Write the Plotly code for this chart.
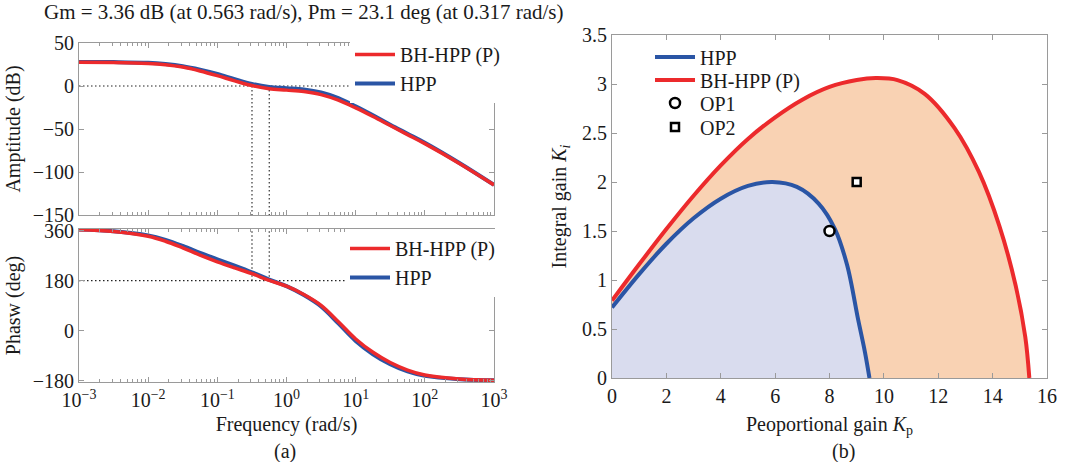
import plotly.graph_objects as go

# ---------------- data ----------------
freq = [0.001, 0.00316, 0.01, 0.0178, 0.0316, 0.0562, 0.1, 0.178, 0.316, 0.562,
        1.0, 1.78, 3.16, 5.62, 10.0, 17.8, 31.6, 56.2, 100.0, 316.0, 1000.0]

amp_bh = [27.5, 27.3, 26.3, 24.8, 22.0, 17.5, 12.0, 6.0, 0.5, -3.2,
          -4.8, -6.5, -10.0, -16.5, -25.5, -35.5, -46.0, -56.5, -67.0, -90.0, -115.0]
amp_hpp = [28.0, 27.8, 27.0, 25.5, 23.0, 19.0, 14.0, 8.0, 2.5, -1.0,
           -2.5, -4.0, -7.5, -14.0, -23.5, -34.0, -45.0, -55.5, -66.0, -89.5, -115.0]

ph_bh = [363, 357, 340, 322, 298, 272, 248, 226, 205, 181,
         160, 130, 91, 32, -30, -78, -115, -142, -160, -174, -179]
ph_hpp = [364, 358, 343, 327, 305, 280, 257, 234, 210, 184,
          160, 128, 87, 26, -37, -85, -121, -147, -163, -175, -179]

margin_freqs = [0.317, 0.563]
amp_ref = 0
phase_ref = 180

hpp_kp = [0, 1, 2, 3, 4, 5, 5.9, 6.8, 7.6, 8.2, 8.65, 9.05, 9.3, 9.47]
hpp_ki = [0.72, 1.06, 1.37, 1.63, 1.83, 1.96, 2.0, 1.95, 1.78, 1.52, 1.15, 0.6, 0.27, 0]

bh_kp = [0, 1, 2, 3, 4, 5, 6, 7, 8, 9, 9.7, 10.5, 11.5, 12.6, 13.5, 14.25, 14.85, 15.2, 15.35]
bh_ki = [0.79, 1.16, 1.52, 1.86, 2.17, 2.44, 2.66, 2.84, 2.97, 3.04, 3.06, 3.04, 2.9, 2.55,
         2.1, 1.55, 0.94, 0.42, 0]

op1 = ([8], [1.5])
op2 = ([9], [2])

freq_ticks = [1e-3, 1e-2, 1e-1, 1, 10, 100, 1000]
freq_ticktext = ["10<sup>−3</sup>", "10<sup>−2</sup>", "10<sup>−1</sup>", "10<sup>0</sup>",
                 "10<sup>1</sup>", "10<sup>2</sup>", "10<sup>3</sup>"]
amp_ticks = [50, 0, -50, -100, -150]
phase_ticks = [360, 180, 0, -180]
kp_ticks = [0, 2, 4, 6, 8, 10, 12, 14, 16]
ki_ticks = [0, 0.5, 1, 1.5, 2, 2.5, 3, 3.5]

title_text = "Gm = 3.36 dB (at 0.563 rad/s), Pm = 23.1 deg (at 0.317 rad/s)"

# ---------------- style ----------------
RED = "#EC2A2C"
BLUE = "#2A55A5"
FILL_RED = "#F9D2B3"
FILL_BLUE = "#D9DCEE"
FONT = "Liberation Serif"
FS = 20
FRAME = "#9a9a9a"
W, H = 1086, 462


def px_x(p):
    return p / W


def px_y(p):
    return 1 - p / H


fig = go.Figure()
dot_line = dict(color="#222", width=1.1, dash="1.5px,2.5px")

# ---------- Bode amplitude ----------
fig.add_trace(go.Scatter(x=[freq[0], freq[-1]], y=[amp_ref, amp_ref], mode="lines",
                         line=dot_line, showlegend=False, xaxis="x", yaxis="y",
                         hoverinfo="skip"))
for f in margin_freqs:
    fig.add_trace(go.Scatter(x=[f, f], y=[amp_ref, -150], mode="lines", line=dot_line,
                             showlegend=False, xaxis="x", yaxis="y", hoverinfo="skip"))
fig.add_trace(go.Scatter(x=freq, y=amp_hpp, mode="lines", name="HPP",
                         line=dict(color=BLUE, width=4, shape="spline"),
                         xaxis="x", yaxis="y", legend="legend"))
fig.add_trace(go.Scatter(x=freq, y=amp_bh, mode="lines", name="BH-HPP (P)",
                         line=dict(color=RED, width=3.5, shape="spline"),
                         xaxis="x", yaxis="y", legend="legend"))

# ---------- Bode phase ----------
fig.add_trace(go.Scatter(x=[freq[0], freq[-1]], y=[phase_ref, phase_ref], mode="lines",
                         line=dot_line, showlegend=False, xaxis="x2", yaxis="y2",
                         hoverinfo="skip"))
for f in margin_freqs:
    fig.add_trace(go.Scatter(x=[f, f], y=[phase_ref, 366], mode="lines", line=dot_line,
                             showlegend=False, xaxis="x2", yaxis="y2", hoverinfo="skip"))
fig.add_trace(go.Scatter(x=freq, y=ph_hpp, mode="lines", name="HPP",
                         line=dict(color=BLUE, width=4, shape="spline"),
                         xaxis="x2", yaxis="y2", legend="legend2"))
fig.add_trace(go.Scatter(x=freq, y=ph_bh, mode="lines", name="BH-HPP (P)",
                         line=dict(color=RED, width=3.5, shape="spline"),
                         xaxis="x2", yaxis="y2", legend="legend2"))

# ---------- stability region ----------
fig.add_trace(go.Scatter(x=bh_kp, y=bh_ki, mode="none", fill="tozeroy", fillcolor=FILL_RED,
                         line=dict(shape="spline"), showlegend=False,
                         xaxis="x3", yaxis="y3", hoverinfo="skip"))
fig.add_trace(go.Scatter(x=hpp_kp, y=hpp_ki, mode="none", fill="tozeroy", fillcolor=FILL_BLUE,
                         line=dict(shape="spline"), showlegend=False,
                         xaxis="x3", yaxis="y3", hoverinfo="skip"))
fig.add_trace(go.Scatter(x=hpp_kp, y=hpp_ki, mode="lines", name="HPP",
                         line=dict(color=BLUE, width=4, shape="spline"),
                         xaxis="x3", yaxis="y3", legend="legend3"))
fig.add_trace(go.Scatter(x=bh_kp, y=bh_ki, mode="lines", name="BH-HPP (P)",
                         line=dict(color=RED, width=4, shape="spline"),
                         xaxis="x3", yaxis="y3", legend="legend4"))
fig.add_trace(go.Scatter(x=op1[0], y=op1[1], mode="markers", name="OP1",
                         marker=dict(symbol="circle", size=10, color="white",
                                     line=dict(color="black", width=2.5)),
                         xaxis="x3", yaxis="y3", legend="legend5"))
fig.add_trace(go.Scatter(x=op2[0], y=op2[1], mode="markers", name="OP2",
                         marker=dict(symbol="square", size=8, color="white",
                                     line=dict(color="black", width=2.5)),
                         xaxis="x3", yaxis="y3", legend="legend6"))

axis_common = dict(showgrid=False, zeroline=False, showline=True, linecolor=FRAME,
                   linewidth=1, mirror="ticks", ticks="inside", tickcolor=FRAME,
                   ticklen=5, automargin=False,
                   tickfont=dict(family=FONT, size=FS, color="#1a1a1a"))

log_minor = dict(ticks="inside", ticklen=3, tickcolor=FRAME, dtick="D1", showgrid=False)

left_dom = [px_x(79), px_x(494)]
right_dom = [px_x(612), px_x(1047)]
title_font = dict(family=FONT, size=FS, color="#1a1a1a")
leg_font = dict(family=FONT, size=FS, color="#1a1a1a")


def single_legend(ycenter):
    return dict(x=px_x(650), y=px_y(ycenter), xanchor="left", yanchor="middle",
                bgcolor="rgba(0,0,0,0)", itemwidth=40, font=leg_font)


fig.update_layout(
    width=W, height=H,
    margin=dict(l=0, r=0, t=0, b=0),
    paper_bgcolor="white", plot_bgcolor="white",
    font=dict(family=FONT, size=FS, color="#1a1a1a"),
    xaxis=dict(axis_common, type="log", domain=left_dom, range=[-3, 3],
               tickvals=freq_ticks, showticklabels=False, anchor="y", minor=log_minor),
    yaxis=dict(axis_common, domain=[px_y(215), px_y(43)], range=[-150, 50],
               tickvals=amp_ticks, anchor="x",
               title=dict(text="Amptitude (dB)", standoff=6, font=title_font)),
    xaxis2=dict(axis_common, type="log", domain=left_dom, range=[-3, 3],
                tickvals=freq_ticks, ticktext=freq_ticktext, anchor="y2", minor=log_minor,
                title=dict(text="Frequency (rad/s)", standoff=6, font=title_font)),
    yaxis2=dict(axis_common, domain=[px_y(382), px_y(229)], range=[-185, 366],
                tickvals=phase_ticks, anchor="x2",
                title=dict(text="Phasw (deg)", standoff=6, font=title_font)),
    xaxis3=dict(axis_common, domain=right_dom, range=[0, 16], tickvals=kp_ticks,
                anchor="y3",
                title=dict(text="Peoportional gain <i>K</i><sub>p</sub>", standoff=10,
                           font=title_font)),
    yaxis3=dict(axis_common, domain=[px_y(378), px_y(35)], range=[0, 3.5],
                tickvals=ki_ticks, anchor="x3",
                title=dict(text="Integral gain <i>K</i><sub><i>i</i></sub>", standoff=10,
                           font=title_font)),
    legend=dict(x=px_x(350), y=px_y(35), xanchor="left", yanchor="top",
                bgcolor="white", traceorder="reversed", itemwidth=40,
                font=leg_font, tracegroupgap=0),
    legend2=dict(x=px_x(345), y=px_y(229), xanchor="left", yanchor="top",
                 bgcolor="white", traceorder="reversed", itemwidth=40,
                 font=leg_font, tracegroupgap=0),
    legend3=single_legend(57),
    legend4=single_legend(80),
    legend5=single_legend(103),
    legend6=single_legend(127),
    annotations=[
        dict(text=title_text, x=px_x(303), y=px_y(12), xref="paper", yref="paper",
             showarrow=False, font=dict(family=FONT, size=21, color="#1a1a1a"),
             xanchor="center", yanchor="middle"),
        dict(text="(a)", x=px_x(285), y=px_y(451), xref="paper", yref="paper",
             showarrow=False, font=title_font, xanchor="center", yanchor="middle"),
        dict(text="(b)", x=px_x(843), y=px_y(451), xref="paper", yref="paper",
             showarrow=False, font=title_font, xanchor="center", yanchor="middle"),
    ],
)

fig.write_html("out.html")
